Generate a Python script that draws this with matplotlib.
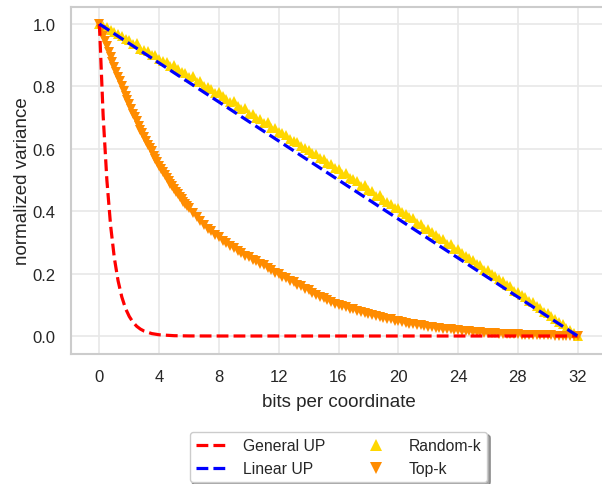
import numpy as np
import matplotlib
matplotlib.use("Agg")
import matplotlib.pyplot as plt
import seaborn as sns

sns.set_style("whitegrid")
plt.rcParams['font.family'] = ['Liberation Sans', 'DejaVu Sans']

# Top-k: finer sampling on the steep part (0-6 bits), quarter bits after
topk_bits = np.concatenate([np.arange(0, 6, 0.125), np.arange(6, 32.25, 0.25)])
topk = [1.000, 0.981, 0.962, 0.944, 0.928, 0.910, 0.893, 0.878,
        0.862, 0.846, 0.829, 0.816, 0.801, 0.784, 0.768, 0.756,
        0.742, 0.727, 0.713, 0.702, 0.690, 0.674, 0.661, 0.650,
        0.637, 0.624, 0.612, 0.603, 0.592, 0.578, 0.566, 0.557,
        0.546, 0.535, 0.525, 0.517, 0.508, 0.496, 0.487, 0.480,
        0.471, 0.461, 0.454, 0.447, 0.439, 0.430, 0.423, 0.417,
        0.410, 0.394, 0.383, 0.367, 0.356, 0.344, 0.336, 0.324,
        0.316, 0.305, 0.299, 0.288, 0.282, 0.272, 0.267, 0.258,
        0.253, 0.244, 0.240, 0.231, 0.227, 0.219, 0.213, 0.203,
        0.198, 0.190, 0.185, 0.176, 0.172, 0.164, 0.159, 0.150,
        0.146, 0.139, 0.133, 0.125, 0.121, 0.114, 0.110, 0.103,
        0.100, 0.095, 0.092, 0.087, 0.085, 0.080, 0.078, 0.073,
        0.071, 0.067, 0.065, 0.060, 0.058, 0.055, 0.053, 0.049,
        0.047, 0.045, 0.043, 0.040, 0.038, 0.036, 0.034, 0.031,
        0.030, 0.028, 0.027, 0.025, 0.024, 0.022, 0.021, 0.019,
        0.018, 0.017, 0.016, 0.015, 0.014, 0.013, 0.012, 0.011,
        0.010, 0.009, 0.009, 0.008, 0.007, 0.007, 0.006, 0.005,
        0.005, 0.004, 0.004, 0.003, 0.003, 0.003, 0.002, 0.002,
        0.002, 0.002, 0.001, 0.001, 0.001, 0.001, 0.000, 0.000,
        0.000]

# Random-k: quarter bits
randk_bits = np.arange(0, 32.25, 0.25)
randk = [1.000, 0.994, 0.990, 0.981, 0.975, 0.967, 0.963, 0.953,
         0.949, 0.936, 0.938, 0.921, 0.918, 0.913, 0.900, 0.902,
         0.888, 0.883, 0.877, 0.864, 0.870, 0.855, 0.847, 0.842,
         0.831, 0.834, 0.815, 0.818, 0.802, 0.799, 0.792, 0.778,
         0.781, 0.768, 0.760, 0.751, 0.753, 0.737, 0.729, 0.731,
         0.713, 0.710, 0.699, 0.694, 0.683, 0.686, 0.666, 0.668,
         0.653, 0.650, 0.643, 0.631, 0.625, 0.621, 0.609, 0.601,
         0.596, 0.587, 0.583, 0.570, 0.566, 0.555, 0.552, 0.539,
         0.536, 0.520, 0.522, 0.505, 0.504, 0.497, 0.482, 0.484,
         0.467, 0.466, 0.450, 0.451, 0.435, 0.429, 0.424, 0.409,
         0.410, 0.398, 0.390, 0.380, 0.378, 0.361, 0.360, 0.344,
         0.343, 0.333, 0.324, 0.315, 0.312, 0.296, 0.295, 0.279,
         0.279, 0.267, 0.258, 0.249, 0.245, 0.230, 0.227, 0.212,
         0.211, 0.200, 0.192, 0.182, 0.177, 0.163, 0.160, 0.145,
         0.142, 0.132, 0.124, 0.113, 0.108, 0.095, 0.091, 0.077,
         0.073, 0.063, 0.055, 0.045, 0.037, 0.027, 0.020, 0.009,
         0.000]

gen_bits = [0, 0.25, 0.5, 0.75, 1, 1.25, 1.5, 1.75, 2, 2.25, 2.5, 2.75,
            3, 3.5, 4, 5, 6, 8, 12, 16, 20, 24, 28, 32]
gen_up = [1.0, 0.707, 0.5, 0.354, 0.25, 0.177, 0.125, 0.088, 0.0625, 0.044,
          0.031, 0.022, 0.0156, 0.0078, 0.0039, 0.001, 0.0002, 0, 0, 0, 0,
          0, 0, 0]

lin_bits = [0, 32]
lin_up = [1.0, 0.0]

fig = plt.figure(figsize=(6.02, 4.85), dpi=100)
ax = fig.add_axes([71 / 602, 130 / 485, 535 / 602, 347 / 485])

ax.plot(randk_bits, randk, linestyle='none', marker='^', markersize=7,
        markeredgewidth=0, color='#FFD700', label='Random-k', zorder=2)
ax.plot(topk_bits, topk, linestyle='none', marker='v', markersize=7,
        markeredgewidth=0, color='#FF8C00', label='Top-k', zorder=2)
ax.plot(gen_bits, gen_up, '--', color='red', linewidth=2.3,
        label='General UP', zorder=3)
ax.plot(lin_bits, lin_up, '--', color='blue', linewidth=2.3,
        label='Linear UP', zorder=3)

ax.set_xlim(-1.9, 33.9)
ax.set_ylim(-0.0577, 1.0545)
ax.set_xticks(range(0, 33, 4))
ax.set_yticks([0.0, 0.2, 0.4, 0.6, 0.8, 1.0])
ax.tick_params(labelsize=12, pad=7.5)
ax.grid(color='#e8e8e8', linewidth=1.2)
for s in ax.spines.values():
    s.set_color('#cccccc')
    s.set_linewidth(1.5)

ax.set_xlabel('bits per coordinate', fontsize=13.5, labelpad=6.5)
ax.set_ylabel('normalized variance', fontsize=13.5, labelpad=1)

h, l = ax.get_legend_handles_labels()
order = [2, 3, 0, 1]
ax.legend([h[i] for i in order], [l[i] for i in order], ncol=2,
          loc='upper center', bbox_to_anchor=(0.5, -0.2248), fontsize=11.3,
          frameon=True, shadow=True, fancybox=True, columnspacing=2.3,
          handlelength=1.9, handletextpad=1.1, markerscale=1.3,
          borderaxespad=0, edgecolor='#cccccc')

fig.savefig('out.png', dpi=100)
